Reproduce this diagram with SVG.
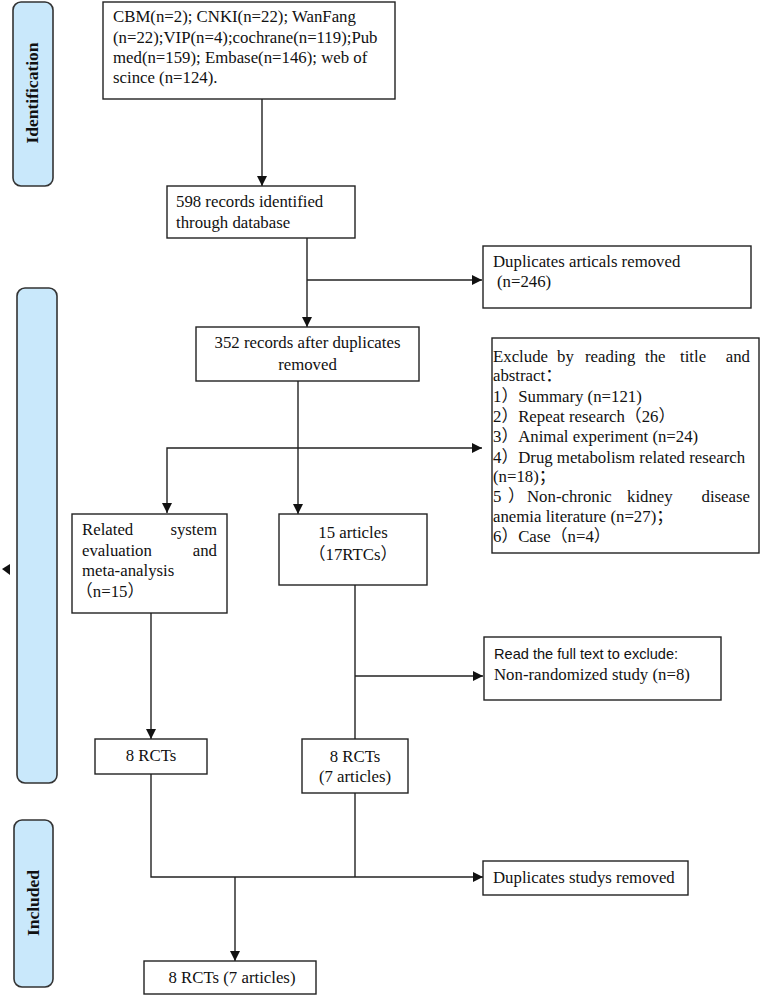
<svg xmlns="http://www.w3.org/2000/svg" width="761" height="995" viewBox="0 0 761 995">
<style>
.box{fill:#fff;stroke:#222;stroke-width:1.4}
.pill{fill:#c9e8fb;stroke:#333;stroke-width:1.6}
.t{font-family:"Liberation Serif","Noto Sans CJK SC",serif;font-size:16.8px;fill:#111}
.s{font-family:"Liberation Sans","Open Sans",sans-serif;font-size:14.6px;fill:#111}
.c{text-anchor:middle}
.e{text-anchor:end}
.lbl{font-family:"Liberation Serif",serif;font-size:17.5px;font-weight:bold;fill:#111;text-anchor:middle}
.ln{fill:none;stroke:#222;stroke-width:1.4}
</style>
<defs>
<marker id="ah" viewBox="0 0 10 10" refX="10" refY="5" markerWidth="10" markerHeight="10" markerUnits="userSpaceOnUse" orient="auto">
<path d="M0,0 L10,5 L0,10 z" fill="#111"/>
</marker>
</defs>
<rect width="761" height="995" fill="#fff"/>

<g id="stage-identification">
<rect class="pill" x="13" y="2" width="40" height="184" rx="8"/>
<text class="lbl" transform="translate(38,93) rotate(-90)">Identification</text>
</g>
<g id="stage-screening">
<rect class="pill" x="17" y="288" width="40" height="495" rx="8"/>
</g>
<g id="stage-included">
<rect class="pill" x="14" y="820" width="39" height="167" rx="8"/>
<text class="lbl" transform="translate(39,903) rotate(-90)">Included</text>
</g>
<polygon points="2,569 10,564 10,575" fill="#111"/>

<g id="connectors">
<line class="ln" x1="262" y1="99" x2="262" y2="186" marker-end="url(#ah)"/>
<line class="ln" x1="307" y1="238" x2="307" y2="327" marker-end="url(#ah)"/>
<line class="ln" x1="307" y1="280" x2="482" y2="280" marker-end="url(#ah)"/>
<line class="ln" x1="298" y1="381" x2="298" y2="514" marker-end="url(#ah)"/>
<polyline class="ln" points="298,448 167,448 167,513" marker-end="url(#ah)"/>
<line class="ln" x1="298" y1="448" x2="482" y2="448" marker-end="url(#ah)"/>
<line class="ln" x1="151" y1="613" x2="151" y2="739" marker-end="url(#ah)"/>
<line class="ln" x1="355" y1="585" x2="355" y2="739"/>
<line class="ln" x1="355" y1="676" x2="483" y2="676" marker-end="url(#ah)"/>
<polyline class="ln" points="151,774 151,877 355,877"/>
<line class="ln" x1="355" y1="793" x2="355" y2="877"/>
<line class="ln" x1="355" y1="877" x2="483" y2="877" marker-end="url(#ah)"/>
<line class="ln" x1="235" y1="877" x2="235" y2="961" marker-end="url(#ah)"/>
</g>

<g id="sources">
<rect class="box" x="103" y="2" width="292" height="97"/>
<text class="t" x="113" y="22">CBM(n=2); CNKI(n=22); WanFang</text>
<text class="t" x="113" y="43">(n=22);VIP(n=4);cochrane(n=119);Pub</text>
<text class="t" x="113" y="63">med(n=159); Embase(n=146); web of</text>
<text class="t" x="113" y="83">scince (n=124).</text>
</g>

<g id="identified">
<rect class="box" x="167" y="186" width="188" height="52"/>
<text class="t" x="176" y="207">598 records identified</text>
<text class="t" x="176" y="228">through database</text>
</g>

<g id="dup-removed">
<rect class="box" x="483" y="246" width="268" height="62"/>
<text class="t" x="493" y="267">Duplicates articals removed</text>
<text class="t" x="497" y="287">(n=246)</text>
</g>

<g id="after-dup">
<rect class="box" x="196" y="327" width="223" height="54"/>
<text class="t c" x="307.5" y="348">352 records after duplicates</text>
<text class="t c" x="307.5" y="370">removed</text>
</g>

<g id="exclude-abstract">
<rect class="box" x="492" y="338" width="267" height="215"/>
<text class="t" y="362"><tspan x="493">Exclude</tspan><tspan x="557">by</tspan><tspan x="585">reading</tspan><tspan x="645">the</tspan><tspan x="680">title</tspan><tspan x="750" text-anchor="end">and</tspan></text>
<text class="t" x="493" y="381">abstract：</text>
<text class="t" x="493" y="402">1）Summary (n=121)</text>
<text class="t" x="493" y="422">2）Repeat research（26）</text>
<text class="t" x="493" y="442">3）Animal experiment (n=24)</text>
<text class="t" x="493" y="463">4）Drug metabolism related research</text>
<text class="t" x="493" y="482">(n=18)；</text>
<text class="t" y="502"><tspan x="493">5</tspan><tspan x="508">）</tspan><tspan x="527">Non-chronic</tspan><tspan x="627">kidney</tspan><tspan x="750" text-anchor="end">disease</tspan></text>
<text class="t" x="493" y="522">anemia literature (n=27)；</text>
<text class="t" x="493" y="542">6）Case（n=4）</text>
</g>

<g id="related">
<rect class="box" x="72" y="514" width="155" height="99"/>
<text class="t" x="82" y="535">Related</text>
<text class="t e" x="217" y="535">system</text>
<text class="t" x="82" y="556">evaluation</text>
<text class="t e" x="217" y="556">and</text>
<text class="t" x="82" y="576">meta-analysis</text>
<text class="t" x="76" y="597">（n=15）</text>
</g>

<g id="articles15">
<rect class="box" x="279" y="514" width="148" height="71"/>
<text class="t c" x="353" y="538">15 articles</text>
<text class="t c" x="353" y="560">（17RTCs）</text>
</g>

<g id="fulltext-exclude">
<rect class="box" x="484" y="637" width="237" height="63"/>
<text class="s" x="494" y="659">Read the full text to exclude:</text>
<text class="t" x="494" y="680">Non-randomized study (n=8)</text>
</g>

<g id="rct-left">
<rect class="box" x="95" y="739" width="112" height="35"/>
<text class="t c" x="151" y="761">8 RCTs</text>
</g>

<g id="rct-right">
<rect class="box" x="302" y="739" width="106" height="54"/>
<text class="t c" x="355" y="762">8 RCTs</text>
<text class="t c" x="355" y="782">(7 articles)</text>
</g>

<g id="dup-studies">
<rect class="box" x="483" y="861" width="205" height="34"/>
<text class="t" x="493" y="883">Duplicates studys removed</text>
</g>

<g id="final">
<rect class="box" x="144" y="961" width="172" height="33"/>
<text class="t c" x="232" y="983">8 RCTs (7 articles)</text>
</g>
</svg>
